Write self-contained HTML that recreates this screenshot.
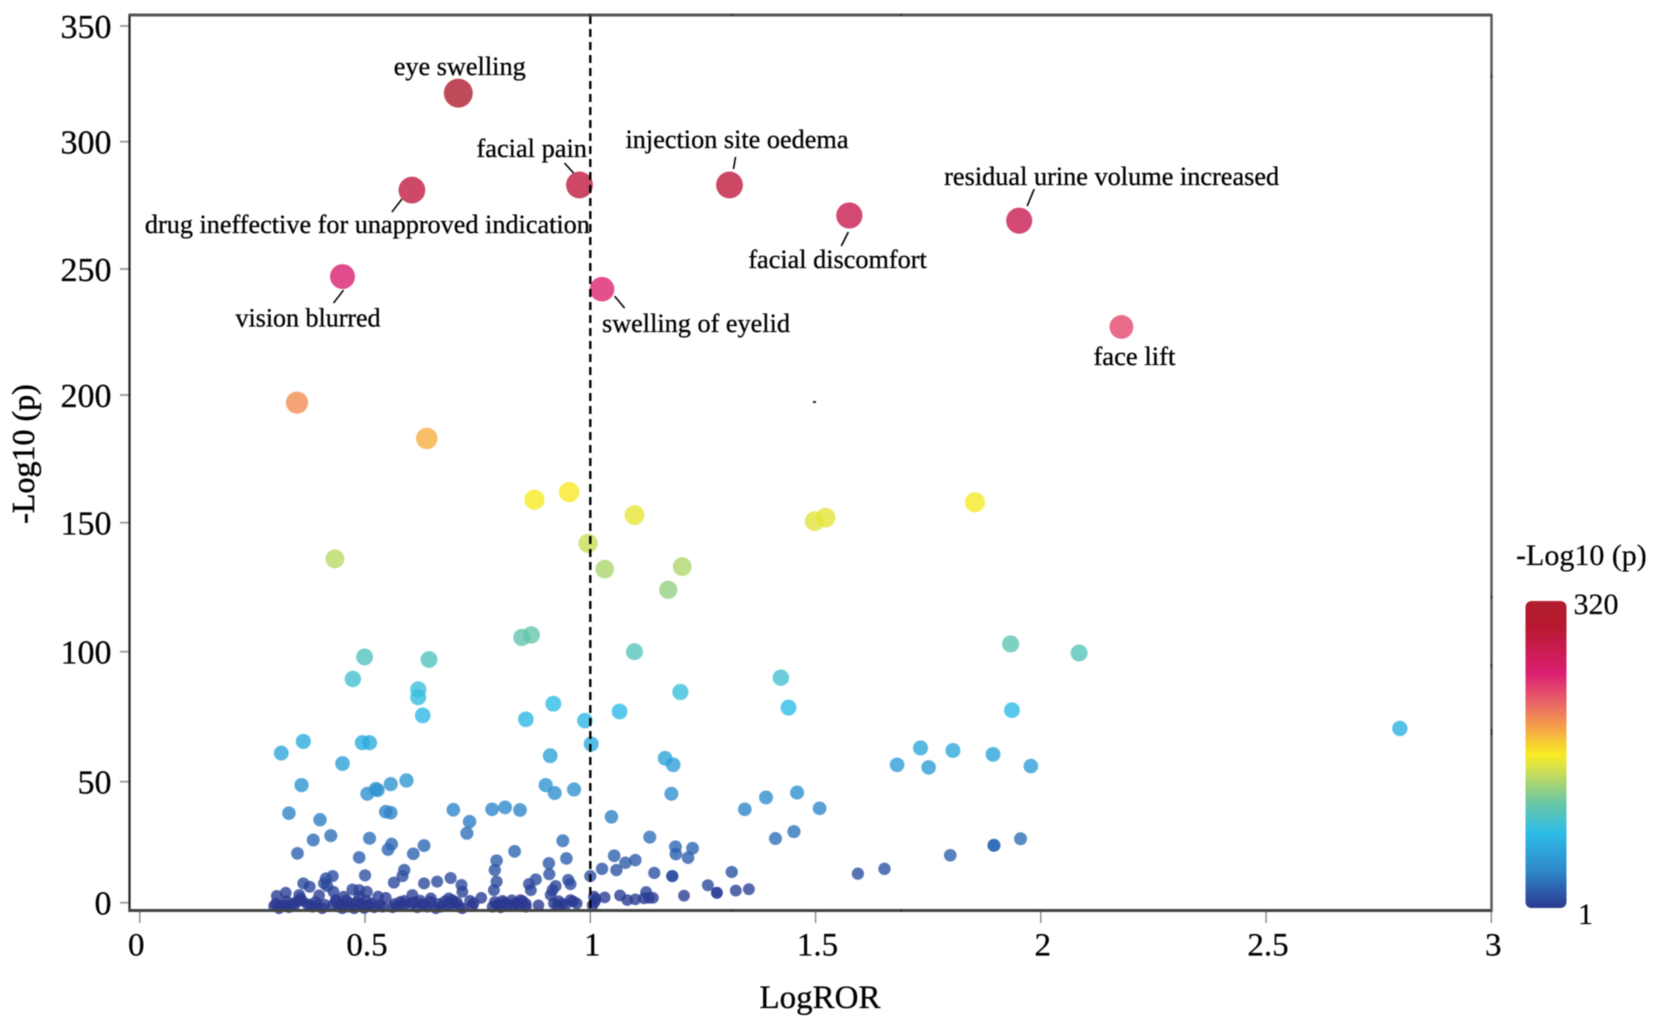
<!DOCTYPE html>
<html lang="en">
<head>
<meta charset="utf-8">
<title>Volcano plot of LogROR against -Log10 (p)</title>
<style>
html,body{margin:0;padding:0;background:#fff;width:1654px;height:1025px;overflow:hidden}
svg{display:block;filter:blur(0.6px)}
text{font-family:"Liberation Serif","Times New Roman",serif;fill:#000}
</style>
</head>
<body>
<svg id="chart" xmlns="http://www.w3.org/2000/svg" width="1654" height="1025" viewBox="0 0 1654 1025">
  <defs>
    <linearGradient id="cbar" x1="0" y1="1" x2="0" y2="0"></linearGradient>
  </defs>
  <rect width="1654" height="1025" fill="#fff"/>
  <g id="ticks"></g>
  <g id="points"></g>
  <g id="leaders"></g>
  <g id="labels"></g>
  <line id="refline" y1="16" y2="910" stroke="#000" stroke-width="2.4" stroke-dasharray="8 5"/>
  <g>
    <line x1="129.5" y1="14" x2="129.5" y2="912" stroke="#222" stroke-width="2.2"/>
    <line x1="129" y1="15" x2="1492" y2="15" stroke="#555" stroke-width="3"/>
    <line x1="129" y1="910.5" x2="1492" y2="910.5" stroke="#444" stroke-width="3"/>
    <line x1="1491.5" y1="14" x2="1491.5" y2="912" stroke="#555" stroke-width="2.4"/>
    <rect x="1490.5" y="75" width="2" height="3" fill="#333"/>
    <rect x="1490.5" y="596" width="2" height="3" fill="#333"/>
    <rect x="1490.5" y="664" width="2" height="3" fill="#333"/>
    <rect x="1490.5" y="729" width="2" height="6" fill="#333"/>
    <rect x="731" y="14" width="2" height="2" fill="#333"/>
    <rect x="589" y="14" width="2" height="3" fill="#333"/>
    <rect x="900" y="14" width="2" height="2" fill="#333"/>
    <rect x="731" y="909" width="2" height="3" fill="#333"/>
    <rect x="900" y="909" width="2" height="3" fill="#333"/>
    <rect x="813" y="401" width="3" height="2" fill="#222"/>
  </g>
  <text x="820" y="1008" text-anchor="middle" font-size="33" stroke="#000" stroke-width="0.3">LogROR</text>
  <text transform="translate(34,454) rotate(-90)" text-anchor="middle" font-size="32" stroke="#000" stroke-width="0.5">-Log10 (p)</text>
  <g>
    <rect x="1525.5" y="601" width="41" height="307" rx="6" fill="url(#cbar)"/>
    <text x="1516" y="565" font-size="30" stroke="#000" stroke-width="0.2">-Log10 (p)</text>
    <text x="1573.5" y="614" font-size="30" stroke="#000" stroke-width="0.2">320</text>
    <text x="1578" y="924" font-size="30" stroke="#000" stroke-width="0.2">1</text>
  </g>
</svg>
<script>
const xTickValues = [0, 0.5, 1, 1.5, 2, 2.5, 3];
const xTickLabels = ['0', '0.5', '1', '1.5', '2', '2.5', '3'];
const yTickValues = [0, 50, 100, 150, 200, 250, 300, 350];
const yTickLabels = ['0', '50', '100', '150', '200', '250', '300', '350'];
const labelNames = ['eye swelling', 'drug ineffective for unapproved indication', 'facial pain', 'injection site oedema', 'facial discomfort', 'residual urine volume increased', 'vision blurred', 'swelling of eyelid', 'face lift'];
const colorMax = 320;
const logRor = [
  0.707,0.604,0.976,1.309,1.575,1.952,0.45,1.026,2.179,
  0.349,0.637,0.876,0.953,1.098,1.498,1.522,1.854,0.995,1.032,1.204,1.173,0.433,
  0.848,0.869,1.098,0.499,0.642,0.473,1.933,2.085,
  0.618,0.618,0.628,0.857,0.918,0.988,1.065,1.2,1.423,1.44,1.936,2.797,
  0.314,0.363,0.494,0.51,0.45,0.911,1.002,1.166,1.184,1.681,1.733,1.751,1.805,1.894,1.978,
  0.359,0.505,0.524,0.528,0.557,0.592,0.901,0.921,0.964,1.18,1.39,1.459,1.343,1.509,
  0.331,0.4,0.546,0.557,0.696,0.732,0.726,0.782,0.811,0.844,1.047,
  0.35,0.385,0.424,0.487,0.51,0.551,0.559,0.607,0.631,0.832,0.792,0.788,0.792,0.786,0.939,0.947,0.908,0.909,1.132,1.189,1.19,1.227,1.217,1.053,1.1,1.078,1.058,1.026,1.0,1.142,1.182,1.182,1.314,1.261,1.281,1.281,1.323,1.352,1.208,
  1.411,1.452,1.653,1.594,1.799,1.896,1.896,1.955,
  1.032,1.066,1.082,1.1,1.124,1.119,1.13,1.139,1.008,1.01,0.951,0.956,0.923,0.916,0.912,0.956,0.919,0.938,0.97,0.864,0.879,0.868,0.845,0.857,0.885,0.583,0.587,0.564,0.5,0.631,0.66,0.69,0.714,0.716,0.686,0.694,0.733,0.758,0.363,0.377,0.413,0.428,0.416,0.409,0.43,0.398,0.324,0.304,0.354,0.357,0.472,0.487,0.504,0.487,0.529,0.546,0.453,0.435,0.605,0.646,0.587,
  0.298,0.309,0.32,0.331,0.342,0.372,0.383,0.394,0.405,0.428,0.442,0.453,0.45,0.465,0.476,0.487,0.498,0.509,0.52,0.539,0.561,0.572,0.583,0.605,0.616,0.627,0.638,0.657,0.668,0.683,0.698,0.709,0.716,0.738,0.783,0.797,0.808,0.82,0.831,0.842,0.857,0.801,0.927,
  0.302,0.315,0.326,0.338,0.348,0.36,0.378,0.39,0.41,0.436,0.447,0.459,0.47,0.482,0.493,0.503,0.514,0.533,0.566,0.578,0.59,0.61,0.622,0.633,0.645,0.663,0.677,0.69,0.704,0.741,0.788,0.793,0.805,0.815,0.826,0.837,0.85,0.93,0.945,0.962,1.005,1.012
];
const minusLogP = [
  321,281,283,283,271,269,247,242,227,
  197,183,159,162,153,150.6,152,158,142,132,133,124,136,
  105.5,106.5,100,98,97,89.5,103,99.5,
  85.5,82.5,75.5,74,80,73.5,77,84.5,90,78.5,77.5,70.5,
  61,65.5,65,65,57,60,64.5,59,56.5,56.5,63,55.5,62,60.5,56,
  48.6,45,47,46.5,49,50.5,48.6,45.3,46.8,45,43.5,45.5,38.6,39,
  37,34.3,37.6,37.2,38.4,33.5,28.7,38.6,39.4,38.3,35.5,
  20.4,25.9,27.7,18.7,26.6,22,24.2,20.2,23.6,21.2,17.4,13.5,8.7,5.2,25.6,18.3,16.3,11.8,27.1,23.1,20.1,22.5,18.6,19.4,17.6,16.5,13.5,14,11,12.3,11,11,12.7,7.2,4.1,4.1,5,5.6,2.9,
  26.5,29.4,14,12,19.6,23.7,23.7,26.4,
  2.2,3,1.1,1.4,4.4,1.8,2,2,2.5,0.4,9.4,7.7,6.9,5.2,3.2,1.1,-0.3,-0.5,-0.3,7.7,9.6,5.2,1.1,-0.5,-1.1,11,13.5,8.3,11.3,8,8.7,10.2,7.3,4.5,1.8,1.1,0.8,2,8,6.6,10,11,6.9,8,4.5,3,4.1,2.8,3.2,1.8,5.5,5.2,4.5,2.5,2.5,2,2.5,1.1,3.2,1.8,0.8,
  -1.4,-2.3,-1,-1.9,-1.4,-0.6,-1.7,-1.4,-2.3,-1,-1.7,-0.6,-2.3,-1.7,-2.3,-1.4,-2.2,-1.1,-1.9,-1.7,-1.9,-1.4,-1,-0.3,-1.9,-0.6,-1.7,-2.3,-1.7,-1,0,-1.7,-2.3,-1.4,-1.7,-1,0,-1.4,-0.6,-1,-1.7,-1.9,-1,
  -0.4,-1.2,0.6,-0.5,0.4,0.8,-0.9,0.3,-0.8,0.5,-1,1,-0.4,0.2,-0.6,0.7,-0.3,-1,-0.5,0.3,-0.6,0.2,0.9,-0.8,0.4,-0.5,0.5,-0.4,0.2,-0.2,0.3,-0.8,0.8,-0.5,1,-0.2,0.6,0.6,-0.8,0.5,-1,1.5
];

const SVG_NS = 'http://www.w3.org/2000/svg';

function xScale(v) {
  return 139.8 + 450.5 * v;
}

function yScale(v) {
  // The source axis is slightly uneven, so it is mapped segment by segment.
  const rangePx = [902.7, 781.7, 651.7, 522.7, 395, 269, 141.7, 26];
  const step = 50;
  const i = Math.max(0, Math.min(rangePx.length - 2, Math.floor(v / step)));
  return rangePx[i] + (v - i * step) / step * (rangePx[i + 1] - rangePx[i]);
}

function radiusOf(v) {
  return 5.8 + 0.027 * Math.max(v, 0);
}

function rampStops() {
  return [
    [0, [43, 57, 144]],
    [0.12, [47, 135, 202]],
    [0.245, [46, 189, 232]],
    [0.35, [112, 200, 160]],
    [0.44, [200, 220, 90]],
    [0.5, [249, 236, 35]],
    [0.59, [245, 160, 74]],
    [0.68, [232, 92, 106]],
    [0.765, [219, 31, 114]],
    [0.92, [183, 25, 47]],
    [1, [176, 30, 46]]
  ];
}

function colorOf(v) {
  const stops = rampStops();
  const t = Math.max(0, Math.min(1, v / colorMax));
  for (let i = 0; i < stops.length - 1; i++) {
    const a = stops[i];
    const b = stops[i + 1];
    if (t <= b[0]) {
      const f = (t - a[0]) / (b[0] - a[0]);
      const c = a[1].map(function (ch, k) { return Math.round(ch + f * (b[1][k] - ch)); });
      return 'rgb(' + c.join(',') + ')';
    }
  }
  return 'rgb(176,30,46)';
}

const gradient = document.getElementById('cbar');
rampStops().forEach(function (s) {
  const stop = document.createElementNS(SVG_NS, 'stop');
  stop.setAttribute('offset', s[0]);
  stop.setAttribute('stop-color', 'rgb(' + s[1].join(',') + ')');
  
  
  gradient.appendChild(stop);
});

const ticksGroup = document.getElementById('ticks');

xTickValues.forEach(function (v, i) {
  const px = xScale(v);
  const tick = document.createElementNS(SVG_NS, 'line');
  tick.setAttribute('x1', px);
  tick.setAttribute('x2', px);
  tick.setAttribute('y1', 911);
  tick.setAttribute('y2', 923);
  tick.setAttribute('stroke', '#888');
  tick.setAttribute('stroke-width', '1.4');
  
  
  ticksGroup.appendChild(tick);
  const label = document.createElementNS(SVG_NS, 'text');
  label.setAttribute('x', px + (i === 0 ? -3.5 : 2));
  label.setAttribute('y', 955.5);
  label.setAttribute('text-anchor', 'middle');
  label.setAttribute('font-size', '33');
  label.setAttribute('stroke', '#000');
  label.setAttribute('stroke-width', '0.25');
  
  
  label.textContent = xTickLabels[i];
  ticksGroup.appendChild(label);
});

yTickValues.forEach(function (v, i) {
  const py = yScale(v);
  const tick = document.createElementNS(SVG_NS, 'line');
  tick.setAttribute('x1', 120);
  tick.setAttribute('x2', 129);
  tick.setAttribute('y1', py);
  tick.setAttribute('y2', py);
  tick.setAttribute('stroke', '#999');
  tick.setAttribute('stroke-width', '1.8');
  
  
  ticksGroup.appendChild(tick);
  const label = document.createElementNS(SVG_NS, 'text');
  label.setAttribute('x', 111.5);
  label.setAttribute('y', py + 12);
  label.setAttribute('text-anchor', 'end');
  label.setAttribute('font-size', '34');
  label.setAttribute('stroke', '#000');
  label.setAttribute('stroke-width', '0.25');
  
  
  label.textContent = yTickLabels[i];
  ticksGroup.appendChild(label);
});

const pointsGroup = document.getElementById('points');
logRor.forEach(function (v, i) {
  const p = minusLogP[i];
  const dot = document.createElementNS(SVG_NS, 'circle');
  dot.setAttribute('cx', xScale(v));
  dot.setAttribute('cy', yScale(p));
  dot.setAttribute('r', radiusOf(p));
  dot.setAttribute('fill', colorOf(p));
  dot.setAttribute('fill-opacity', '0.8');
  
  
  pointsGroup.appendChild(dot);
});

// Label placement relative to its point: text dx, baseline dy, text width, leader x1, y1, x2, y2.
function labelPlacement(i) {
  return [
    [-64.6, -18, 132],
    [-267, 43, 445, -10, 9, -20, 22],
    [-103, -28, 110.5, -15, -22, -6, -12],
    [-104, -37, 223, 6, -28, 4, -16],
    [-101, 52.5, 178.4, -1, 16.5, -8, 30.5],
    [-75, -35.6, 335, 15, -31.6, 8, -14.6],
    [-107, 50, 145, 1, 13.5, -9, 26.5],
    [0, 43, 188, 12.6, 7, 22.6, 19],
    [-28, 38, 82]
  ][i];
}

const labelsGroup = document.getElementById('labels');
const leadersGroup = document.getElementById('leaders');
labelNames.forEach(function (name, i) {
  const px = xScale(logRor[i]);
  const py = yScale(minusLogP[i]);
  const place = labelPlacement(i);
  const label = document.createElementNS(SVG_NS, 'text');
  label.setAttribute('x', px + place[0]);
  label.setAttribute('y', py + place[1]);
  label.setAttribute('font-size', '26');
  label.setAttribute('textLength', place[2]);
  label.setAttribute('lengthAdjust', 'spacingAndGlyphs');
  label.setAttribute('stroke', '#000');
  label.setAttribute('stroke-width', '0.3');
  
  
  label.textContent = name;
  labelsGroup.appendChild(label);
  if (place.length > 3) {
    const leader = document.createElementNS(SVG_NS, 'line');
    leader.setAttribute('x1', px + place[3]);
    leader.setAttribute('y1', py + place[4]);
    leader.setAttribute('x2', px + place[5]);
    leader.setAttribute('y2', py + place[6]);
    leader.setAttribute('stroke', '#000');
    leader.setAttribute('stroke-width', '1.6');
    
    
    leadersGroup.appendChild(leader);
  }
});

const refLine = document.getElementById('refline');
refLine.setAttribute('x1', xScale(1));
refLine.setAttribute('x2', xScale(1));
</script>
</body>
</html>
